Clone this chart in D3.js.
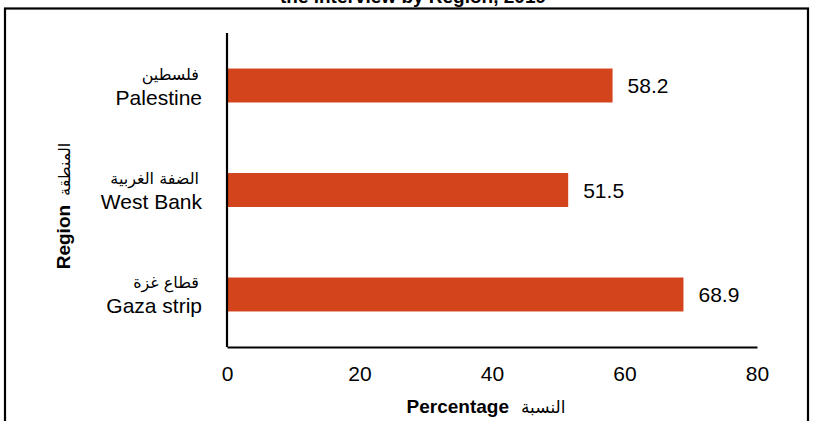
<!DOCTYPE html>
<html>
<head>
<meta charset="utf-8">
<script src="https://cdn.jsdelivr.net/npm/d3@7"></script>
<style>
  html, body { margin: 0; padding: 0; background: #fff; }
  svg { display: block; font-family: "Liberation Sans", Arial, "DejaVu Sans", sans-serif; }
</style>
</head>
<body>
<svg id="chart" width="813" height="421"></svg>
<script>
const categoriesEn = ["Palestine", "West Bank", "Gaza strip"];
const categoriesAr = ["فلسطين", "الضفة الغربية", "قطاع غزة"];
const values = [58.2, 51.5, 68.9];
const xTicks = [0, 20, 40, 60, 80];
const titleText = "the interview by Region, 2019";
const xTitleEn = "Percentage";
const xTitleAr = "النسبة";
const yTitleEn = "Region";
const yTitleAr = "المنطقة";

const svg = d3.select("#chart");
const W = 813, H = 421;
const m = { left: 227, right: 56, top: 33, bottom: 74 };

// outer frame
svg.append("rect")
  .attr("x", 5).attr("y", 8.5)
  .attr("width", 803).attr("height", 430)
  .attr("fill", "none").attr("stroke", "#000").attr("stroke-width", 2.2);

// title (cut off at top, as in the reference)
svg.append("text")
  .attr("x", 413).attr("y", 3)
  .attr("text-anchor", "middle")
  .attr("font-weight", "bold").attr("font-size", 19)
  .text(titleText);

const x = d3.scaleLinear().domain([0, 80]).range([m.left, W - m.right]);
const y = d3.scaleBand().domain(categoriesEn).range([m.top, H - m.bottom]).paddingInner(0.675).paddingOuter(0.34);

// bars
svg.append("g").selectAll("rect")
  .data(values)
  .join("rect")
  .attr("x", x(0))
  .attr("y", (d, i) => y(categoriesEn[i]))
  .attr("width", d => x(d) - x(0))
  .attr("height", y.bandwidth())
  .attr("fill", "#d3441c");

// value labels
svg.append("g").selectAll("text")
  .data(values)
  .join("text")
  .attr("x", d => x(d) + 15)
  .attr("y", (d, i) => y(categoriesEn[i]) + y.bandwidth() / 2)
  .attr("dy", "0.36em")
  .attr("font-size", 21)
  .text(d => d.toFixed(1));

// x axis
const xAxis = d3.axisBottom(x).tickValues(xTicks).tickSize(0).tickPadding(19).tickFormat(d3.format("d"));
const gx = svg.append("g").attr("transform", `translate(0,${H - m.bottom})`).call(xAxis);
gx.select(".domain").attr("stroke", "#000").attr("stroke-width", 2.2);
gx.selectAll("text").attr("font-size", 21).attr("fill", "#000").attr("font-family", "Liberation Sans, Arial, sans-serif");

// y axis line
const yAxis = d3.axisLeft(y).tickSize(0).tickFormat("");
const gy = svg.append("g").attr("transform", `translate(${m.left},0)`).call(yAxis);
gy.select(".domain").attr("stroke", "#000").attr("stroke-width", 2.2)
  .attr("d", `M0,${m.top}V${H - m.bottom}`);

// category labels (Arabic + English)
const cl = svg.append("g");
categoriesEn.forEach((c, i) => {
  const cy = y(c) + y.bandwidth() / 2;
  cl.append("text")
    .attr("x", 199).attr("y", cy - 6)
    .attr("text-anchor", "end")
    .attr("font-size", 16)
    .attr("font-family", "DejaVu Sans, sans-serif")
    .text(categoriesAr[i]);
  cl.append("text")
    .attr("x", 202).attr("y", cy + 19)
    .attr("text-anchor", "end")
    .attr("font-size", 21)
    .text(c);
});

// x title
const xt = svg.append("text")
  .attr("x", 486).attr("y", 413)
  .attr("text-anchor", "middle")
  .attr("font-size", 19);
xt.append("tspan").attr("font-weight", "bold").text(xTitleEn);
xt.append("tspan").attr("font-size", 17).attr("font-family", "DejaVu Sans, sans-serif").attr("dx", 12).text(xTitleAr);

// y title
const yt = svg.append("text")
  .attr("transform", "translate(70,206) rotate(-90)")
  .attr("text-anchor", "middle")
  .attr("font-size", 19);
yt.append("tspan").attr("font-weight", "bold").text(yTitleEn);
yt.append("tspan").attr("font-size", 16).attr("font-family", "DejaVu Sans, sans-serif").attr("dx", 9).text(yTitleAr);
</script>
</body>
</html>
